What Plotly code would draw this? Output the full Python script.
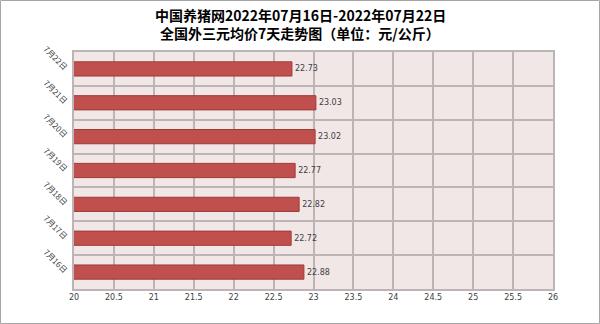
import plotly.graph_objects as go

categories = ["7月16日", "7月17日", "7月18日", "7月19日", "7月20日", "7月21日", "7月22日"]
values = [22.88, 22.72, 22.82, 22.77, 23.02, 23.03, 22.73]
x_ticks = [20, 20.5, 21, 21.5, 22, 22.5, 23, 23.5, 24, 24.5, 25, 25.5, 26]
x_tick_labels = ["20", "20.5", "21", "21.5", "22", "22.5", "23", "23.5", "24", "24.5", "25", "25.5", "26"]
title_lines = ["中国养猪网2022年07月16日-2022年07月22日", "全国外三元均价7天走势图（单位：元/公斤）"]

W, H = 600, 324
ml, mr, mt, mb = 74, 47, 52, 35
pw, ph = W - ml - mr, H - mt - mb

fig = go.Figure(go.Bar(
    y=categories, x=values, orientation="h",
    marker=dict(color="#C0504D", line=dict(color="#9E3B38", width=1)),
    width=0.42,
    text=[f"{v:.2f}" for v in values], textposition="outside",
    textfont=dict(size=8, color="#404040", family="DejaVu Sans"),
))

fig.update_layout(
    width=W, height=H,
    margin=dict(l=ml, r=mr, t=mt, b=mb),
    paper_bgcolor="white", plot_bgcolor="#F2E7E7",
    showlegend=False,
    font=dict(family="Noto Sans CJK SC"),
)
for line, yc in zip(title_lines, [15, 33]):
    fig.add_annotation(text=f"<b>{line}</b>", xref="paper", yref="paper",
                       x=(300 - ml) / pw, y=(H - mb - yc) / ph, xanchor="center", yanchor="middle",
                       showarrow=False, font=dict(size=14, color="#000000", family="Noto Sans CJK SC"))

fig.update_xaxes(range=[20, 26], tickvals=x_ticks, ticktext=x_tick_labels,
                 showgrid=True, gridcolor="#BDB5B5", gridwidth=1.5,
                 showline=True, linecolor="#BDB5B5", linewidth=1.5, mirror=True,
                 ticks="", tickfont=dict(size=8, color="#404040", family="DejaVu Sans"),
                 zeroline=False, fixedrange=True)
fig.update_yaxes(tickson="boundaries", showgrid=True, gridcolor="#BDB5B5", gridwidth=1.5,
                 showline=True, linecolor="#BDB5B5", linewidth=1.5, mirror=True,
                 ticks="", tickangle=45, tickfont=dict(size=8, color="#404040", family="Noto Sans CJK SC"),
                 ticklabelstandoff=4)

fig.add_shape(type="rect", xref="paper", yref="paper",
              x0=(0.5 - ml) / pw, x1=(W - 0.5 - ml) / pw,
              y0=(H - mb - (H - 0.5)) / ph, y1=(H - mb - 0.5) / ph,
              line=dict(color="#A6A6A6", width=1), fillcolor="rgba(0,0,0,0)", layer="above")

fig.write_html("out.html")
